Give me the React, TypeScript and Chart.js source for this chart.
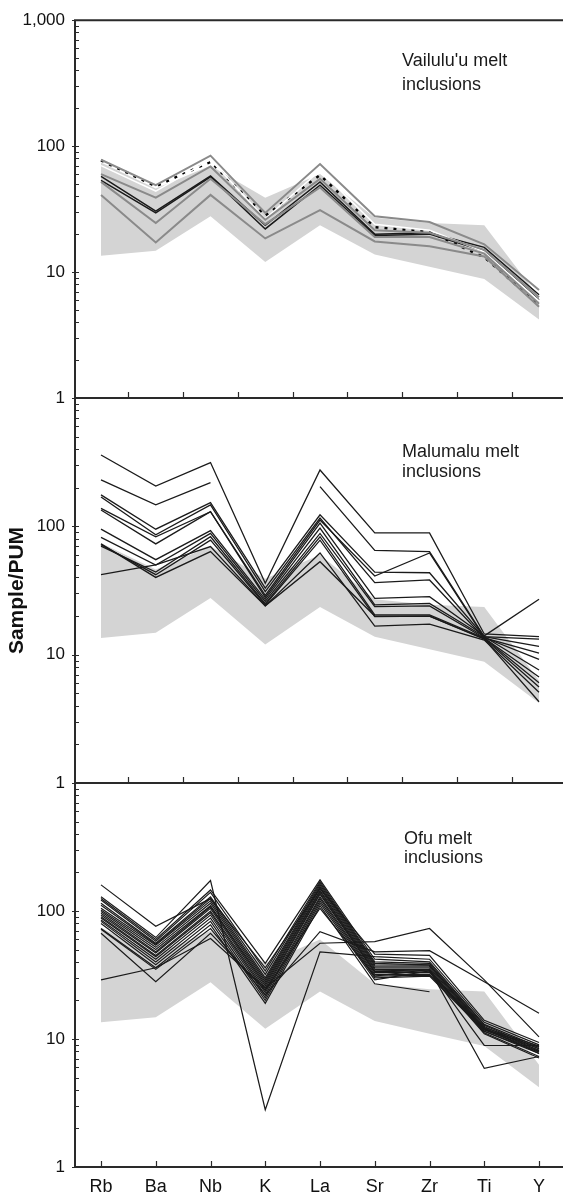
import React, { useEffect, useRef } from 'react';
import { Chart, registerables } from 'chart.js';

Chart.register(...registerables);

const FONT = "'Liberation Sans', Arial, Helvetica, sans-serif";

// Categories (x axis)
const elements = ['Rb', 'Ba', 'Nb', 'K', 'La', 'Sr', 'Zr', 'Ti', 'Y'];
// Y tick labels
const yTickValues = [1, 10, 100, 1000];
const yTickLabels = ['1', '10', '100', '1,000'];

// Shaded reference field (same in all panels)
const fieldTop = [74, 46, 70, 39, 60, 27, 24.5, 23.5, 6.3];
const fieldBottom = [13.5, 14.8, 27.7, 12, 23.5, 13.8, 11, 8.8, 4.2];

// Vailulu'u melt inclusions
const vailuluDotted = [77, 48, 75, 28, 59, 22.7, 20.8, 13.1, 5.5];
const vailuluGrayA = [78, 49, 84, 29.5, 72, 27.7, 25, 16.6, 7.2];
const vailuluGrayB = [60, 39, 69, 26, 55, 21.5, 20.5, 15, 6.3];
const vailuluBlackC = [57.5, 30.5, 58, 23.5, 52, 20, 20.5, 15.7, 6.6];
const vailuluBlackD = [53.5, 29.5, 57, 22, 49, 19.5, 20, 14.7, 6.0];
const vailuluGrayE = [52, 24.5, 55, 24, 47, 19, 19, 14, 5.6];
const vailuluGrayF = [41, 17.2, 41, 18.5, 31, 17.5, 16, 13.3, 5.3];
const vailuluWhite = [70, 44, 78, 26.5, 64, 24, 21.5, 14.5, 5.9];

// Malumalu melt inclusions
const malumalu1 = [360, 206, 314, 36, 275, 89, 89, 14.5, 13.8];
const malumalu2 = [230, 147, 219, null, 204, 65, 63.5, 13.8, 13.2];
const malumalu3 = [176, 95, 153, 33, 123, 44, 43.5, 13.8, 11.6];
const malumalu4 = [169, 86, 147, 31, 116, 36.4, 38.2, 13.5, 10.3];
const malumalu5 = [138, 83, 130, 29, 112, 41, 62, 13.6, 9.2];
const malumalu6 = [134, 73, 130, 28, 106, 27.5, 28.3, 14, 27];
const malumalu7 = [95, 55, 92.5, 27, 97, 24.4, 25.1, 13.8, 7.6];
const malumalu8 = [82, 50, 88, 26, 88, 23.7, 24, 13.5, 6.7];
const malumalu9 = [70, 44, 83, 25, 83, 20.4, 20.4, 13.5, 6.05];
const malumalu10 = [72, 42, 78, 24.5, 78, 19.8, 20, 13.3, 5.6];
const malumalu11 = [42, 50, 69.5, 24, 62, 16.7, 17.3, 13, 5.1];
const malumalu12 = [73, 40, 63.5, 24, 53, 20, 20, 13.2, 4.3];

// Ofu melt inclusions
const ofu1 = [160, 76, 125, 36, 150, 46, 45, 14, 9.4];
const ofu2 = [129, 62, 173, 2.8, 48, 44, 42, 13.5, 9.0];
const ofu3 = [125, 60, 146, 39, 175, 42, 40, 13, 8.7];
const ofu4 = [122, 58, 140, 34, 170, 40, 39, 12.8, 8.4];
const ofu5 = [115, 56, 129, 32, 165, 39, 38, 12.5, 8.1];
const ofu6 = [111, 55, 125, 30, 160, 38, 37.8, 12.2, 7.7];
const ofu7 = [105, 54, 120, 29, 155, 37, 37, 12, 8.4];
const ofu8 = [102, 52, 115, 28, 150, 36, 36, 11.8, 8.0];
const ofu9 = [99, 50, 110, 27, 145, 35, 35, 11.5, 7.7];
const ofu10 = [96, 48, 108, 26, 142, 34, 34.6, 11.2, 7.3];
const ofu11 = [93, 47, 105, 25, 138, 33.6, 34, 11, 7.1];
const ofu12 = [90, 45, 100, 24, 135, 33, 33, 12, 8.6];
const ofu13 = [88, 44, 97, 23, 129, 32, 32, 12.3, 8.8];
const ofu14 = [85, 42, 93, 22, 125, 31, 31.6, 11.8, 8.2];
const ofu15 = [83, 40, 88, 21, 120, 30, 31, 11.5, 7.9];
const ofu16 = [80, 38, 83, 20, 115, 29, 34, 8.9, 8.9];
const ofu17 = [73, 36, 78, 19, 110, 27, 23.4, null, null];
const ofu18 = [67, 28, 67, 24, 105, 31, 35, 5.9, 7.3];
const ofu19 = [29, 36, 61, 25, 56, 57.6, 73, 29, 10.4];
const ofu20 = [72, 35, 73, 22, 69, 48, 49, 28, 15.9];

const BLACK = '#1a1a1a';
const GRAY = '#8a8a8a';

type Series = { values: (number | null)[]; color: string; width: number; dash?: number[] };

const panels = [
  {
    top: 14,
    bottom: 398,
    showThousand: true,
    showXLabels: false,
    title: '',
    note: ["Vailulu'u melt", 'inclusions'],
    noteDX: 327,
    noteDY: 45.3,
    noteGap: 24.7,
    series: [
      { values: vailuluGrayF, color: GRAY, width: 2 },
      { values: vailuluGrayE, color: GRAY, width: 2 },
      { values: vailuluGrayB, color: GRAY, width: 2 },
      { values: vailuluGrayA, color: GRAY, width: 2 },
      { values: vailuluWhite, color: '#ffffff', width: 1.5 },
      { values: vailuluBlackD, color: BLACK, width: 1.5 },
      { values: vailuluBlackC, color: BLACK, width: 1.5 },
      { values: vailuluDotted, color: '#000000', width: 2.5, dash: [3, 6] },
    ] as Series[],
  },
  {
    top: 398,
    bottom: 783,
    showThousand: false,
    showXLabels: false,
    title: 'Sample/PUM',
    note: ['Malumalu melt', 'inclusions'],
    noteDX: 327,
    noteDY: 58.7,
    noteGap: 20,
    series: [malumalu1, malumalu2, malumalu3, malumalu4, malumalu5, malumalu6, malumalu7, malumalu8, malumalu9, malumalu10, malumalu11, malumalu12].map(
      (v) => ({ values: v, color: BLACK, width: 1.3 })
    ) as Series[],
  },
  {
    top: 783,
    bottom: 1167,
    showThousand: false,
    showXLabels: true,
    title: '',
    note: ['Ofu melt', 'inclusions'],
    noteDX: 329,
    noteDY: 61,
    noteGap: 19.3,
    series: [ofu1, ofu2, ofu3, ofu4, ofu5, ofu6, ofu7, ofu8, ofu9, ofu10, ofu11, ofu12, ofu13, ofu14, ofu15, ofu16, ofu17, ofu18, ofu19, ofu20].map(
      (v) => ({ values: v, color: BLACK, width: 1.2 })
    ) as Series[],
  },
];

const W = 563;
const H = 1195;
const X_MIN = -0.475;
const X_MAX = 8.438;

function toPoints(values: (number | null)[]) {
  return values.map((v, i) => ({ x: i, y: v }));
}

function framePlugin(panel: any) {
  return {
    id: 'frame',
    afterDraw(chart: any) {
      const { ctx, chartArea, scales } = chart;
      const { left, right, top, bottom } = chartArea;
      const x = scales.x;
      const y = scales.y;
      ctx.save();
      ctx.strokeStyle = '#2a2a2a';
      ctx.lineWidth = 2;
      ctx.beginPath();
      ctx.moveTo(left, top);
      ctx.lineTo(right, top);
      ctx.moveTo(left, bottom);
      ctx.lineTo(right, bottom);
      ctx.moveTo(left, top - 1);
      ctx.lineTo(left, bottom + 1);
      ctx.stroke();

      // y ticks (log)
      ctx.lineWidth = 1.2;
      ctx.beginPath();
      for (let d = 1; d <= 100; d *= 10) {
        for (let m = 1; m <= 9; m++) {
          const py = Math.round(y.getPixelForValue(d * m)) + 0.5;
          ctx.moveTo(m === 1 ? left - 3 : left, py);
          ctx.lineTo(left + 4, py);
        }
      }
      const pTop = Math.round(y.getPixelForValue(1000)) + 0.5;
      ctx.moveTo(left - 3, pTop);
      ctx.lineTo(left + 4, pTop);
      ctx.stroke();

      // x ticks (inward)
      const positions = panel.showXLabels
        ? elements.map((_, i) => i)
        : elements.slice(1).map((_, i) => i + 0.5);
      ctx.beginPath();
      positions.forEach((p: number) => {
        const px = Math.round(x.getPixelForValue(p)) + 0.5;
        ctx.moveTo(px, bottom);
        ctx.lineTo(px, bottom - 6);
      });
      ctx.stroke();

      // annotation
      ctx.font = `18px ${FONT}`;
      ctx.fillStyle = '#1a1a1a';
      ctx.textBaseline = 'alphabetic';
      ctx.textAlign = 'left';
      panel.note.forEach((t: string, i: number) => {
        ctx.fillText(t, left + panel.noteDX, top + panel.noteDY + i * panel.noteGap);
      });
      ctx.restore();
    },
  };
}

function buildConfig(panel: any): any {
  const datasets: any[] = panel.series.map((s: Series) => ({
    data: toPoints(s.values),
    borderColor: s.color,
    borderWidth: s.width,
    borderDash: s.dash || [],
    pointRadius: 0,
    fill: false,
    tension: 0,
    spanGaps: false,
    order: 0,
  }));
  datasets.push({
    data: toPoints(fieldTop),
    borderWidth: 0,
    borderColor: 'rgba(0,0,0,0)',
    backgroundColor: '#d4d4d4',
    fill: '+1',
    pointRadius: 0,
    tension: 0,
    order: 10,
  });
  datasets.push({
    data: toPoints(fieldBottom),
    borderWidth: 0,
    borderColor: 'rgba(0,0,0,0)',
    fill: false,
    pointRadius: 0,
    tension: 0,
    order: 10,
  });

  const xAxisH = panel.showXLabels ? 28 : 0;

  return {
    type: 'line',
    data: { datasets },
    options: {
      animation: false,
      responsive: false,
      devicePixelRatio: 1,
      events: [],
      layout: { padding: { top: panel.top, bottom: H - panel.bottom - xAxisH, left: 0, right: 0 } },
      plugins: { legend: { display: false }, tooltip: { enabled: false }, title: { display: false } },
      scales: {
        x: {
          type: 'linear',
          min: X_MIN,
          max: X_MAX,
          display: panel.showXLabels,
          grid: { display: false, drawTicks: false },
          border: { display: false },
          afterBuildTicks: (s: any) => {
            s.ticks = elements.map((_, i) => ({ value: i }));
          },
          afterFit: (s: any) => {
            if (panel.showXLabels) s.height = 28;
          },
          ticks: {
            autoSkip: false,
            maxRotation: 0,
            padding: 9,
            color: '#111',
            font: { size: 18, family: FONT },
            callback: (v: number) => elements[Math.round(v)] ?? '',
          },
        },
        y: {
          type: 'logarithmic',
          min: 1,
          max: 1000,
          grid: { display: false, drawTicks: false },
          border: { display: false },
          afterFit: (s: any) => {
            s.width = 75;
          },
          title: {
            display: !!panel.title,
            text: panel.title,
            color: '#111',
            font: { size: 21, weight: 'bold', family: FONT },
            padding: { top: 5, bottom: 0 },
          },
          ticks: {
            autoSkip: false,
            padding: 10,
            color: '#111',
            font: { size: 17, family: FONT },
            callback: (v: number) => {
              const idx = yTickValues.findIndex((t) => Math.abs(t - v) < 1e-6);
              if (idx < 0) return '';
              if (yTickValues[idx] === 1000 && !panel.showThousand) return '';
              return yTickLabels[idx];
            },
          },
        },
      },
    },
    plugins: [framePlugin(panel)],
  };
}

export default function App() {
  const r0 = useRef<HTMLCanvasElement>(null);
  const r1 = useRef<HTMLCanvasElement>(null);
  const r2 = useRef<HTMLCanvasElement>(null);
  const refs = [r0, r1, r2];

  useEffect(() => {
    const charts = panels.map((p, i) => new Chart(refs[i].current as HTMLCanvasElement, buildConfig(p)));
    return () => charts.forEach((c) => c.destroy());
  }, []);

  return (
    <div style={{ position: 'absolute', left: 0, top: 0, width: W, height: H, background: '#fff', overflow: 'hidden' }}>
      {panels.map((_, i) => (
        <canvas key={i} ref={refs[i]} width={W} height={H} style={{ position: 'absolute', left: 0, top: 0 }} />
      ))}
    </div>
  );
}
